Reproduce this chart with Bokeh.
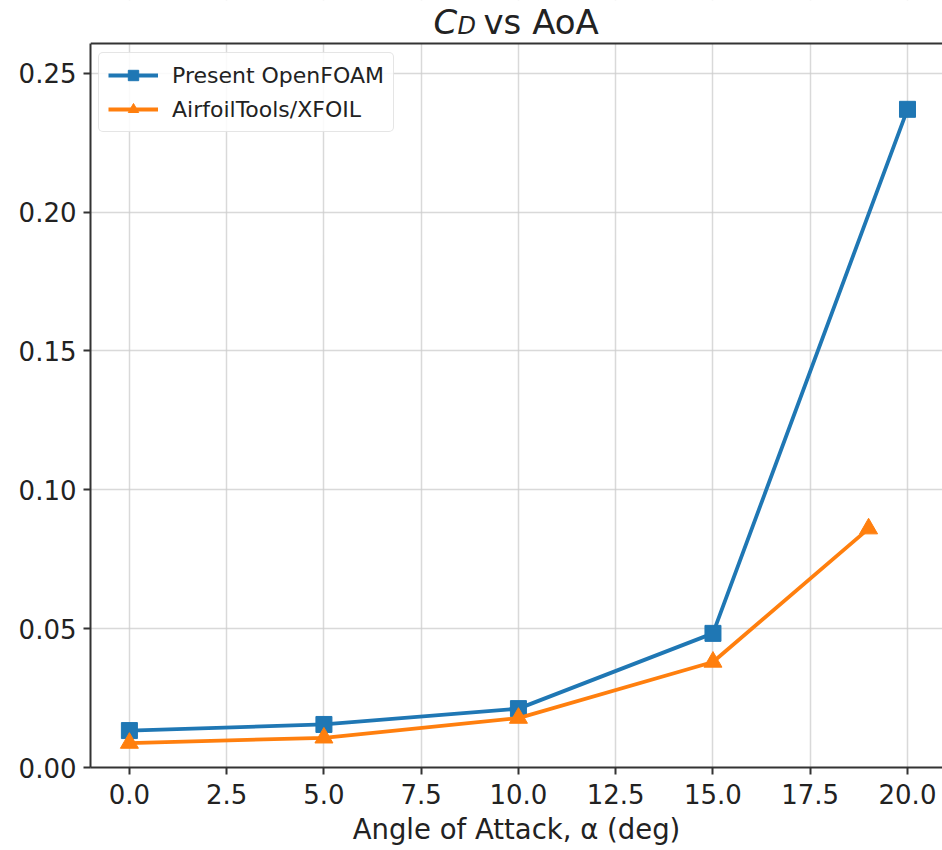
from bokeh.plotting import figure
from bokeh.models import (Range1d, FixedTicker, NumeralTickFormatter, Legend, LegendItem,
                          Label, Span, BoxAnnotation)
from bokeh.embed import file_html
from bokeh.resources import INLINE

# Drag coefficient vs angle of attack
aoa_foam = [0.0, 5.0, 10.0, 15.0, 20.0]
cd_foam = [0.0133, 0.0155, 0.0212, 0.0483, 0.2370]

aoa_xfoil = [0.0, 5.0, 10.0, 15.0, 19.0]
cd_xfoil = [0.0088, 0.0107, 0.0178, 0.0380, 0.0860]

x_ticks = [0.0, 2.5, 5.0, 7.5, 10.0, 12.5, 15.0, 17.5, 20.0]
y_ticks = [0.00, 0.05, 0.10, 0.15, 0.20, 0.25]

BLUE = "#1f77b4"
ORANGE = "#ff7f0e"
FONT = "DejaVu Sans"
TXT = "#222222"
SPINE = "#333333"

W, H = 942, 850
LEFT, BOTTOM = 90, 83          # borders around the axes box
HEAD = 43                      # title band above the axes box (inside the frame)
X0, X1 = -1.0, 20.9
Y0, Y1 = 0.0, 0.2607           # visible data range of the axes box

frame_w = W - LEFT
frame_h = H - BOTTOM
axes_h = frame_h - HEAD
dy_px = (Y1 - Y0) / axes_h
dx_px = (X1 - X0) / frame_w
Y_TOP = Y1 + HEAD * dy_px


def sx(px):
    return X0 + (px - LEFT) * dx_px


def sy(py):
    return Y1 + (HEAD - py) * dy_px


p = figure(width=W, height=H, x_range=Range1d(X0, X1), y_range=Range1d(Y0, Y_TOP),
           output_backend="svg", toolbar_location=None, title=None,
           min_border_left=LEFT, min_border_right=0, min_border_top=0, min_border_bottom=BOTTOM)
p.outline_line_color = None
p.background_fill_color = "white"
p.border_fill_color = "white"

for ax in (p.xaxis[0], p.yaxis[0]):
    ax.axis_line_color = SPINE
    ax.axis_line_width = 2
    ax.major_tick_line_color = SPINE
    ax.major_tick_line_width = 2
    ax.major_tick_out = 7
    ax.major_tick_in = 0
    ax.minor_tick_line_color = None
    ax.major_label_text_font = FONT
    ax.major_label_text_font_size = "26px"
    ax.major_label_text_color = TXT

p.yaxis.bounds = (Y0, Y1)
p.xaxis.ticker = FixedTicker(ticks=x_ticks)
p.yaxis.ticker = FixedTicker(ticks=y_ticks)
p.xaxis.formatter = NumeralTickFormatter(format="0.0")
p.yaxis.formatter = NumeralTickFormatter(format="0.00")
p.xaxis.major_label_standoff = 9
p.yaxis.major_label_standoff = 7
p.xaxis.axis_label = "Angle of Attack, \u03b1 (deg)"
p.xaxis.axis_label_text_font = FONT
p.xaxis.axis_label_text_font_size = "27.5px"
p.xaxis.axis_label_text_font_style = "normal"
p.xaxis.axis_label_text_color = TXT
p.xaxis.axis_label_standoff = 6

p.grid.grid_line_color = "#cccccc"
p.grid.grid_line_alpha = 0.75
p.grid.grid_line_width = 1.5

l1 = p.line(aoa_foam, cd_foam, line_color=BLUE, line_width=3.8)
s1 = p.scatter(aoa_foam, cd_foam, marker="square", size=16, fill_color=BLUE, line_color=BLUE)
l2 = p.line(aoa_xfoil, cd_xfoil, line_color=ORANGE, line_width=3.8)
s2 = p.scatter(aoa_xfoil, cd_xfoil, marker="triangle", size=18, fill_color=ORANGE, line_color=ORANGE)

# blank title band above the axes box, then the top spine
p.add_layout(BoxAnnotation(bottom=Y1, fill_color="white", fill_alpha=1.0, line_color=None))
p.add_layout(Span(location=Y1, dimension="width", line_color=SPINE, line_width=2))

legend = Legend(items=[LegendItem(label="Present OpenFOAM", renderers=[l1, s1]),
                       LegendItem(label="AirfoilTools/XFOIL", renderers=[l2, s2])],
                location=(8, frame_h - 132), margin=0, padding=9, spacing=8,
                glyph_width=50, glyph_height=26, label_height=26, label_standoff=14,
                label_text_font=FONT, label_text_font_size="22px", label_text_color=TXT,
                border_line_color="#cccccc", border_line_width=1.5, border_radius=5,
                background_fill_color="white", background_fill_alpha=0.85)
p.add_layout(legend, "center")

# title: C_D vs AoA (label anchors sit ~12px above the drawn baseline)
p.add_layout(Label(x=sx(433), y=sy(21), text="C", text_font=FONT,
                   text_font_size="34px", text_font_style="italic", text_color=TXT,
                   text_align="left", text_baseline="alphabetic"))
p.add_layout(Label(x=sx(457), y=sy(25.5), text="D", text_font=FONT,
                   text_font_size="24px", text_font_style="italic", text_color=TXT,
                   text_align="left", text_baseline="alphabetic"))
p.add_layout(Label(x=sx(483), y=sy(21), text="vs AoA", text_font=FONT,
                   text_font_size="34px", text_color=TXT,
                   text_align="left", text_baseline="alphabetic"))

open("out.html", "w").write(file_html(p, INLINE))
